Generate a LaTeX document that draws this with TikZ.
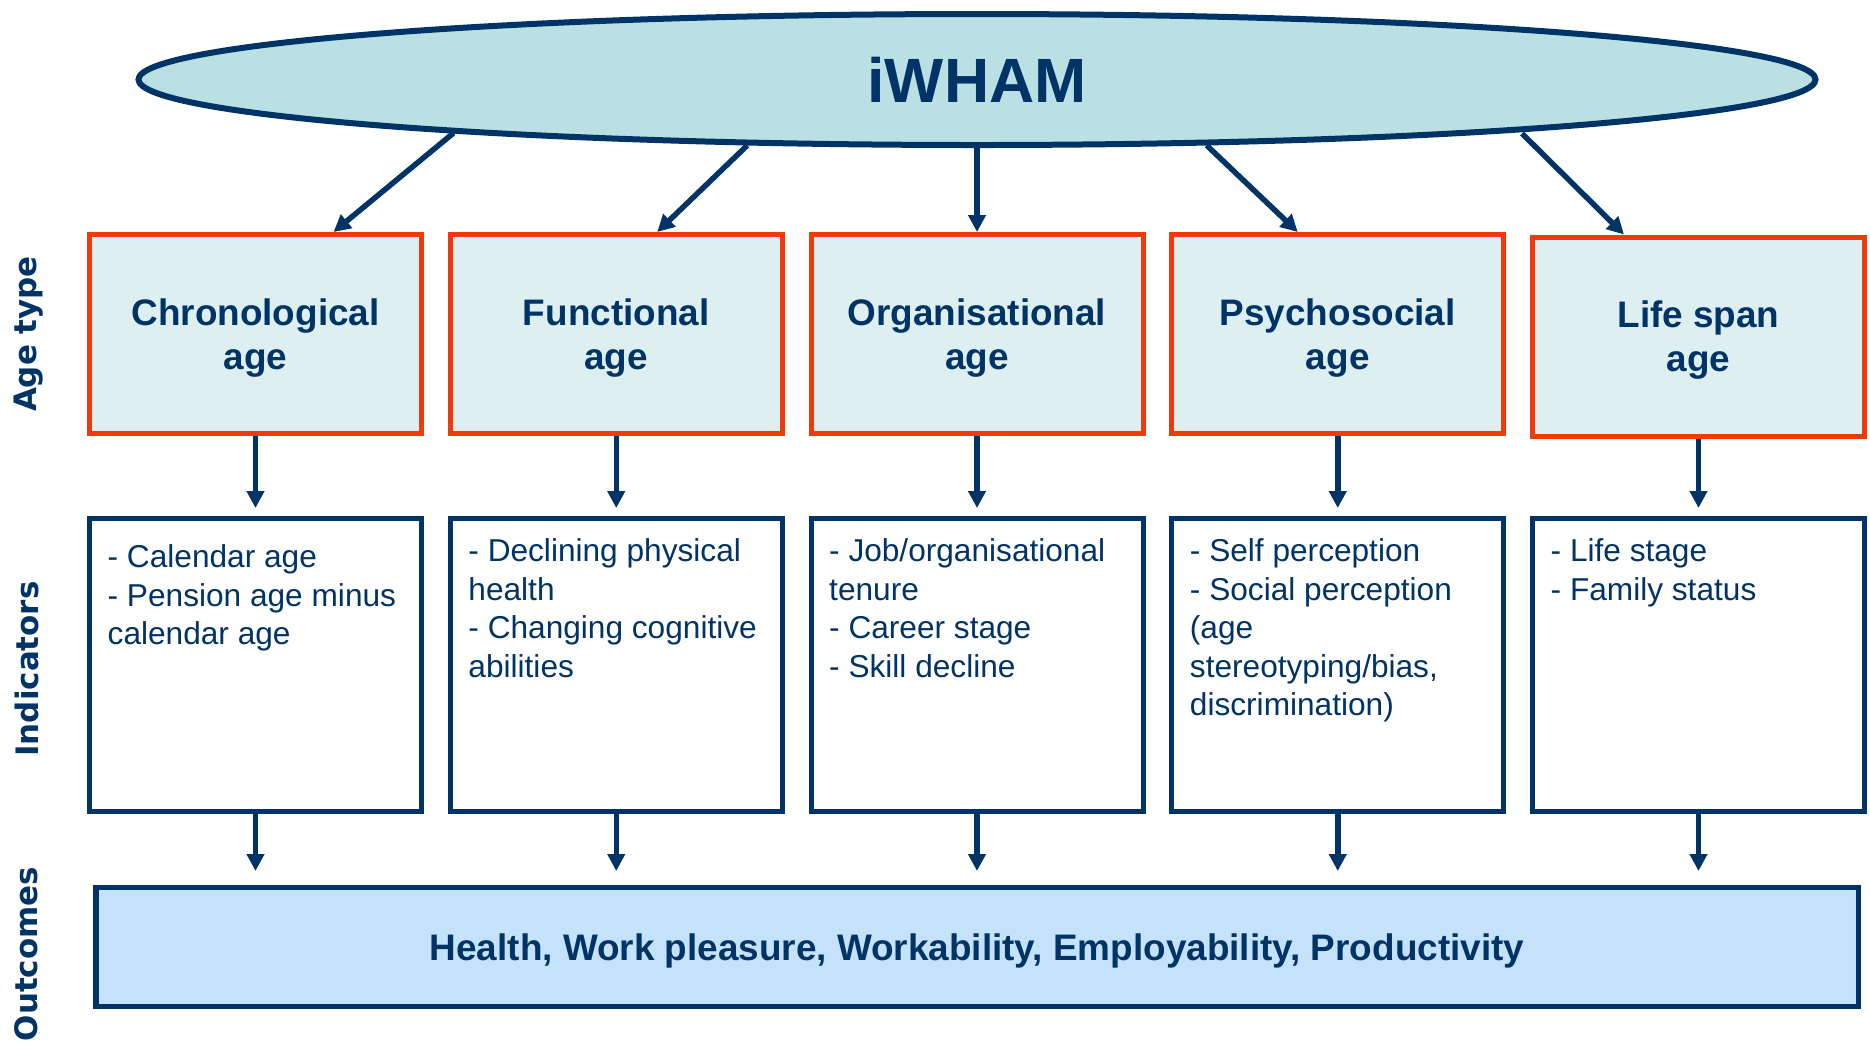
\documentclass[tikz,border=0pt]{standalone}
\usepackage{fontspec}
\setmainfont{Liberation Sans}
\newfontfamily\labelfont{DejaVu Sans}
\usetikzlibrary{arrows.meta, shapes, positioning}

\definecolor{navy}{RGB}{0,51,102}
\definecolor{agered}{RGB}{238,58,12}
\definecolor{agefill}{RGB}{221,239,240}
\definecolor{modelfill}{RGB}{186,224,227}
\definecolor{outfill}{RGB}{197,226,251}

\tikzset{
	agebox/.style={rectangle, draw=agered, fill=agefill, line width=0.05cm, minimum width=3.32cm, minimum height=1.99cm, text depth=-0.04cm, align=center, text=navy, font=\bfseries\fontsize{10.5pt}{12.5pt}\selectfont},
	indbox/.style={rectangle, draw=navy, fill=white, line width=0.05cm, minimum width=3.32cm, minimum height=2.93cm},
	indtext/.style={anchor=north west, inner sep=0pt, align=left, text=navy, font=\fontsize{9pt}{10.95pt}\selectfont},
	outbox/.style={rectangle, draw=navy, fill=outfill, line width=0.05cm, minimum width=17.62cm, minimum height=1.19cm, text depth=-0.03cm, text=navy, font=\bfseries\fontsize{10.5pt}{12.5pt}\selectfont},
	sidelabel/.style={rotate=90, text=navy, font=\labelfont\bfseries\fontsize{8.8pt}{10pt}\selectfont},
	conn/.style={draw=navy, line width=0.055cm, -{Triangle[length=0.17cm, width=0.17cm]}}
}

\begin{document}
\begin{tikzpicture}
	\useasboundingbox (0,0) rectangle (18.70,-10.47);

	% age types %
	\node[agebox] (chrono) at (2.555,-3.34) {Chronological\\age};
	\node[agebox, right of = chrono, node distance=3.6075cm] (func) {Functional\\age};
	\node[agebox, right of = func, node distance=3.6075cm] (org) {Organisational\\age};
	\node[agebox, right of = org, node distance=3.6075cm] (psycho) {Psychosocial\\age};
	\node[agebox, right of = psycho, node distance=3.6075cm, yshift=-0.025cm] (life) {Life span\\age};

	% model %
	\node[ellipse, draw=navy, fill=modelfill, line width=0.06cm, minimum width=16.77cm, minimum height=1.31cm, inner sep=0pt, text=navy, font=\bfseries\fontsize{17.8pt}{20pt}\selectfont, above of = org, node distance=2.545cm] (iwham) {iWHAM};

	% indicators %
	\node[indbox, below of = chrono, node distance=3.31cm] (chronoind) {};
	\node[indbox, right of = chronoind, node distance=3.6075cm] (funcind) {};
	\node[indbox, right of = funcind, node distance=3.6075cm] (orgind) {};
	\node[indbox, right of = orgind, node distance=3.6075cm] (psychoind) {};
	\node[indbox, right of = psychoind, node distance=3.6075cm] (lifeind) {};

	\node[indtext] (chronotxt) at ([shift={(0.20,-0.28)}]chronoind.north west) {- Calendar age\\- Pension age minus\\calendar age};
	\node[indtext] (functxt) at ([shift={(0.20,-0.22)}]funcind.north west) {- Declining physical\\health\\- Changing cognitive\\abilities};
	\node[indtext] (orgtxt) at ([shift={(0.20,-0.22)}]orgind.north west) {- Job/organisational\\tenure\\- Career stage\\- Skill decline};
	\node[indtext] (psychotxt) at ([shift={(0.20,-0.22)}]psychoind.north west) {- Self perception\\- Social perception\\(age\\stereotyping/bias,\\discrimination)};
	\node[indtext] (lifetxt) at ([shift={(0.20,-0.22)}]lifeind.north west) {- Life stage\\- Family status};

	% outcomes %
	\node[outbox, below of = orgind, node distance=2.82cm] (outcome) {Health, Work pleasure, Workability, Employability, Productivity};

	% row labels %
	\node[left of = chrono, node distance=2.265cm, sidelabel] (agetype) {Age type};
	\node[left of = chronoind, node distance=2.29cm, yshift=-0.04cm, sidelabel] (indicators) {Indicators};
	\node[below of = indicators, node distance=2.85cm, sidelabel] (outcomes) {Outcomes};

	% edges %
	\draw[conn] ([shift={(-5.235,-0.535)}]iwham.center) -- ([xshift=0.78cm]chrono.north);
	\draw[conn] (iwham.196) -- ([xshift=0.41cm]func.north);
	\draw[conn] (iwham.south) -- (org.north);
	\draw[conn] (iwham.344) -- ([xshift=-0.40cm]psycho.north);
	\draw[conn] ([shift={(5.45,-0.54)}]iwham.center) -- ([xshift=-0.745cm]life.north);

	\draw[conn, shorten >=0.08cm] (chrono.south) -- (chronoind.north);
	\draw[conn, shorten >=0.08cm] (func.south) -- (funcind.north);
	\draw[conn, shorten >=0.08cm] (org.south) -- (orgind.north);
	\draw[conn, shorten >=0.08cm] (psycho.south) -- (psychoind.north);
	\draw[conn, shorten >=0.08cm] (life.south) -- (lifeind.north);

	\draw[conn, shorten >=0.14cm] (chronoind.south) -- (chronoind.south |- outcome.north);
	\draw[conn, shorten >=0.14cm] (funcind.south) -- (funcind.south |- outcome.north);
	\draw[conn, shorten >=0.14cm] (orgind.south) -- (orgind.south |- outcome.north);
	\draw[conn, shorten >=0.14cm] (psychoind.south) -- (psychoind.south |- outcome.north);
	\draw[conn, shorten >=0.14cm] (lifeind.south) -- (lifeind.south |- outcome.north);
\end{tikzpicture}
\end{document}
